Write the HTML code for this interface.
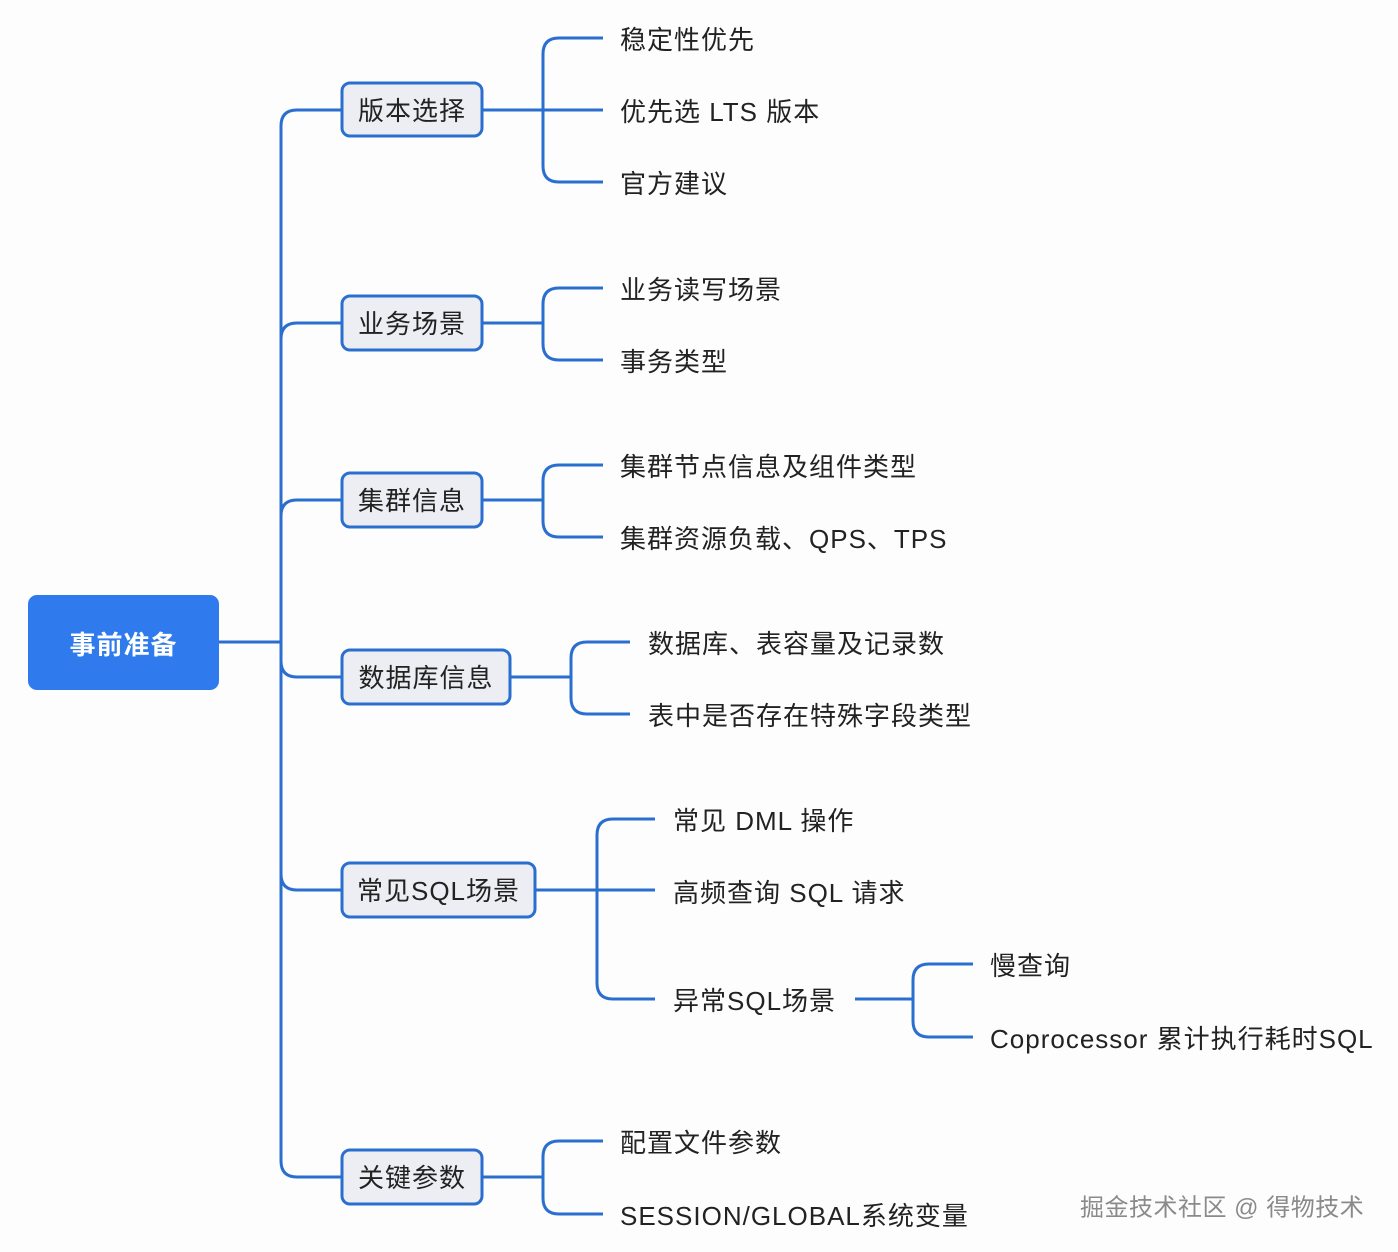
<!DOCTYPE html>
<html><head><meta charset="utf-8"><style>
html,body{margin:0;padding:0;background:#fdfdfe;}
svg{display:block}
text{font-family:"Liberation Sans","Noto Sans CJK SC",sans-serif;font-size:26px;fill:#222;dominant-baseline:central;letter-spacing:1px}
.b{fill:#eceef3;stroke:#2a6fd0;stroke-width:3}
.l{fill:none;stroke:#2a6fd0;stroke-width:3}
</style></head><body>
<svg width="1398" height="1252" viewBox="0 0 1398 1252">
<rect x="28" y="595" width="191" height="95" rx="9" fill="#2f7bee"/>
<text x="123.5" y="645" text-anchor="middle" style="fill:#fff;font-weight:bold;font-size:26px">事前准备</text>
<path class="l" d="M219,642 H281 M281,126 V1161 M281,126 Q281,110 297,110 H342 M281,1161 Q281,1177 297,1177 H342
M281,339 Q281,323 297,323 H342 M281,516 Q281,500 297,500 H342 M281,661 Q281,677 297,677 H342 M281,874 Q281,890 297,890 H342"/>
<rect class="b" x="342" y="83" width="140" height="53" rx="8"/><text x="412" y="111" text-anchor="middle">版本选择</text>
<rect class="b" x="342" y="296" width="140" height="54" rx="8"/><text x="412" y="324" text-anchor="middle">业务场景</text>
<rect class="b" x="342" y="473" width="140" height="54" rx="8"/><text x="412" y="501" text-anchor="middle">集群信息</text>
<rect class="b" x="342" y="650" width="168" height="54" rx="8"/><text x="426" y="678" text-anchor="middle">数据库信息</text>
<rect class="b" x="342" y="863" width="193" height="54" rx="8"/><text x="438.5" y="891" text-anchor="middle">常见SQL场景</text>
<rect class="b" x="342" y="1150" width="140" height="54" rx="8"/><text x="412" y="1178" text-anchor="middle">关键参数</text>
<path class="l" d="M482,110 H603 M543,54 Q543,38 559,38 H603 M543,54 V166 Q543,182 559,182 H603"/>
<path class="l" d="M482,323 H543 M543,304 Q543,288 559,288 H603 M543,304 V344 Q543,360 559,360 H603"/>
<path class="l" d="M482,500 H543 M543,481 Q543,465 559,465 H603 M543,481 V521 Q543,537 559,537 H603"/>
<path class="l" d="M510,677 H571 M571,658 Q571,642 587,642 H630 M571,658 V698 Q571,714 587,714 H630"/>
<path class="l" d="M535,890 H655 M597,835 Q597,819 613,819 H655 M597,835 V983 Q597,999 613,999 H655"/>
<path class="l" d="M855,999 H913 M913,980 Q913,964 929,964 H973 M913,980 V1021 Q913,1037 929,1037 H973"/>
<path class="l" d="M482,1177 H543 M543,1157 Q543,1141 559,1141 H603 M543,1157 V1198 Q543,1214 559,1214 H603"/>
<text x="620" y="40">稳定性优先</text>
<text x="620" y="112">优先选 LTS 版本</text>
<text x="620" y="184">官方建议</text>
<text x="620" y="290">业务读写场景</text>
<text x="620" y="362">事务类型</text>
<text x="620" y="467">集群节点信息及组件类型</text>
<text x="620" y="539">集群资源负载、QPS、TPS</text>
<text x="648" y="644">数据库、表容量及记录数</text>
<text x="648" y="716">表中是否存在特殊字段类型</text>
<text x="673" y="821">常见 DML 操作</text>
<text x="673" y="893">高频查询 SQL 请求</text>
<text x="673" y="1001">异常SQL场景</text>
<text x="990" y="966">慢查询</text>
<text x="990" y="1039">Coprocessor 累计执行耗时SQL</text>
<text x="620" y="1143">配置文件参数</text>
<text x="620" y="1216">SESSION/GLOBAL系统变量</text>
<text x="1080" y="1208" style="fill:#8a8a8a;font-size:24px;letter-spacing:0.5px">掘金技术社区 @ 得物技术</text>
</svg>
</body></html>
